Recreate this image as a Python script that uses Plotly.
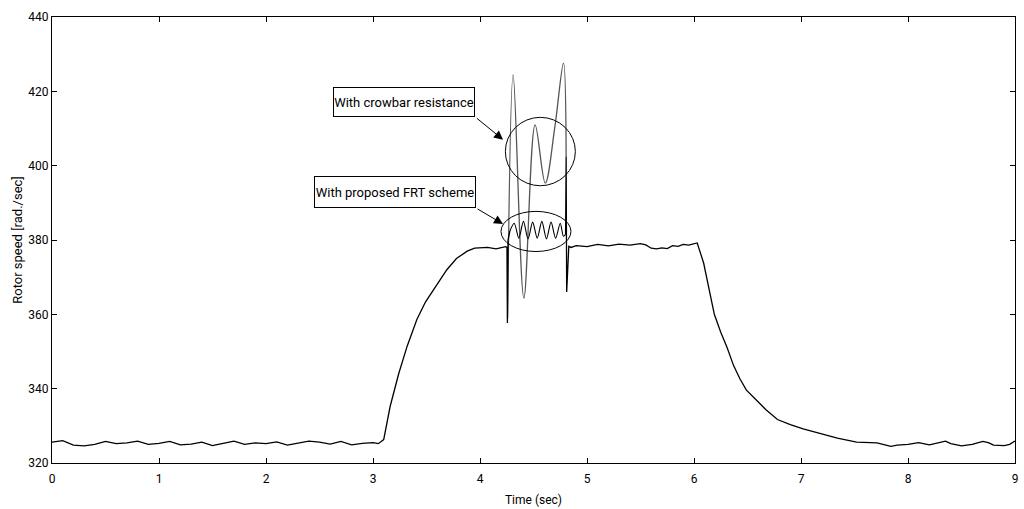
import plotly.graph_objects as go

# ---- data ----
time_main = [
    0.0, 0.1, 0.2, 0.3, 0.4, 0.5, 0.6, 0.7, 0.8, 0.9,
    1.0, 1.1, 1.2, 1.3, 1.4, 1.5, 1.6, 1.7, 1.8, 1.9,
    2.0, 2.1, 2.2, 2.3, 2.4, 2.5, 2.6, 2.7, 2.8, 2.9,
    3.0, 3.05, 3.1,
    3.16, 3.24, 3.32, 3.41, 3.49, 3.57, 3.69, 3.78, 3.88, 3.95, 4.07, 4.15, 4.24,
    4.252, 4.256, 4.262, 4.28,
    None,
    4.80, 4.805, 4.81, 4.83,
    4.85, 4.9, 5.0, 5.1, 5.2, 5.3, 5.4, 5.5, 5.55, 5.6, 5.65, 5.7, 5.75, 5.8,
    5.85, 5.9, 5.95, 6.0, 6.03,
    6.09, 6.15, 6.19, 6.25, 6.31, 6.37, 6.43, 6.49, 6.59, 6.67, 6.78, 6.90,
    7.02, 7.15, 7.34, 7.52, 7.71, 7.84,
    7.9, 8.0, 8.1, 8.2, 8.3, 8.35, 8.4, 8.5, 8.6, 8.7, 8.75, 8.8, 8.9, 8.95, 9.0,
]
speed_main = [
    325.6, 326.0, 324.8, 324.6, 325.0, 325.8, 325.2, 325.4, 325.9, 325.0,
    325.3, 325.8, 324.9, 325.1, 325.6, 324.7, 325.3, 325.9, 325.0, 325.4,
    325.2, 325.7, 324.8, 325.3, 325.9, 325.6, 325.1, 325.8, 324.9, 325.3,
    325.5, 325.2, 326.3,
    335.2, 344.0, 351.5, 358.6, 363.3, 366.8, 372.0, 375.0, 377.0, 377.8, 378.0, 377.6, 378.2,
    378.0, 357.7, 380.0, 382.5,
    None,
    381.5, 402.5, 366.0, 378.3,
    378.0, 378.5, 378.2, 378.8, 378.4, 378.9, 378.6, 379.0, 378.7, 377.8, 377.6, 377.9, 377.7, 378.5,
    378.3, 378.8, 378.6, 379.0, 379.2,
    373.8, 365.5, 360.0, 355.2, 351.0, 346.2, 342.6, 339.6, 336.6, 334.4, 331.7, 330.3,
    329.2, 328.1, 326.7, 325.6, 325.4, 324.5,
    324.8, 325.0, 325.5, 324.9, 325.6, 325.9, 325.2, 324.6, 325.0, 325.8, 325.5, 324.8, 324.7, 325.0, 325.9,
]

time_frt = [4.28, 4.32, 4.363, 4.406, 4.449, 4.492, 4.535, 4.578, 4.621, 4.664, 4.707, 4.75, 4.78, 4.80]
speed_frt = [382.5, 384.5, 380.5, 385.0, 380.3, 384.8, 380.5, 385.0, 380.3, 384.8, 380.5, 384.5, 381.0, 381.5]

time_crowbar = [4.258, 4.31, 4.41, 4.515, 4.61, 4.70, 4.78, 4.805]
speed_crowbar = [359.0, 424.5, 364.4, 411.0, 395.3, 410.5, 427.6, 402.5]

x_ticks = [0, 1, 2, 3, 4, 5, 6, 7, 8, 9]
y_ticks = [320, 340, 360, 380, 400, 420, 440]

label_crowbar = "With crowbar resistance"
label_frt = "With proposed FRT scheme"

FONT = "Liberation Sans Narrow, Arial Narrow, Roboto, sans-serif"

fig = go.Figure()
fig.add_trace(go.Scatter(x=time_crowbar, y=speed_crowbar, mode="lines",
                         line=dict(color="#555555", width=1.3, shape="spline", smoothing=1.0),
                         showlegend=False))
fig.add_trace(go.Scatter(x=time_frt, y=speed_frt, mode="lines",
                         line=dict(color="black", width=1.1, shape="spline", smoothing=0.8),
                         showlegend=False))
fig.add_trace(go.Scatter(x=time_main, y=speed_main, mode="lines", connectgaps=False,
                         line=dict(color="black", width=1.3),
                         showlegend=False))

# circle around crowbar oscillation, ellipse around FRT oscillation
fig.add_shape(type="circle", xref="x", yref="y",
              x0=4.237, x1=4.891, y0=394.6, y1=413.0,
              line=dict(color="black", width=1))
fig.add_shape(type="circle", xref="x", yref="y",
              x0=4.196, x1=4.85, y0=376.9, y1=387.7,
              line=dict(color="black", width=1))

# text boxes
fig.add_annotation(x=3.293, y=417.1, xref="x", yref="y", text=label_crowbar,
                   showarrow=False, bordercolor="black", borderwidth=1, borderpad=0,
                   bgcolor="white", width=140, height=28,
                   font=dict(family=FONT, size=13, color="black"))
fig.add_annotation(x=3.204, y=392.9, xref="x", yref="y", text=label_frt,
                   showarrow=False, bordercolor="black", borderwidth=1, borderpad=0,
                   bgcolor="white", width=160, height=30,
                   font=dict(family=FONT, size=13, color="black"))
# arrows
fig.add_annotation(x=4.215, y=407.0, ax=3.956, ay=413.1, xref="x", yref="y",
                   axref="x", ayref="y", text="", showarrow=True,
                   arrowhead=2, arrowsize=1.8, arrowwidth=1, arrowcolor="black")
fig.add_annotation(x=4.215, y=384.3, ax=3.963, ay=388.6, xref="x", yref="y",
                   axref="x", ayref="y", text="", showarrow=True,
                   arrowhead=2, arrowsize=1.8, arrowwidth=1, arrowcolor="black")

axis_common = dict(showline=True, linecolor="black", linewidth=1, mirror="ticks",
                   ticks="inside", ticklen=5, tickcolor="black", showgrid=False,
                   zeroline=False, automargin=False,
                   tickfont=dict(family=FONT, size=12, color="black"))

fig.update_xaxes(range=[0, 9], tickvals=x_ticks, ticktext=[str(v) for v in x_ticks],
                 ticklabelstandoff=5,
                 title=dict(text="Time (sec)", font=dict(family=FONT, size=12, color="black"),
                            standoff=10),
                 **axis_common)
fig.update_yaxes(range=[320, 440], tickvals=y_ticks, ticktext=[str(v) for v in y_ticks],
                 title=dict(text="Rotor speed [rad./sec]",
                            font=dict(family=FONT, size=13, color="black"), standoff=2),
                 **axis_common)

fig.update_layout(width=1024, height=509, margin=dict(l=52, r=9, t=17, b=46),
                  plot_bgcolor="white", paper_bgcolor="white",
                  font=dict(family=FONT, color="black"))

fig.write_html("out.html")
